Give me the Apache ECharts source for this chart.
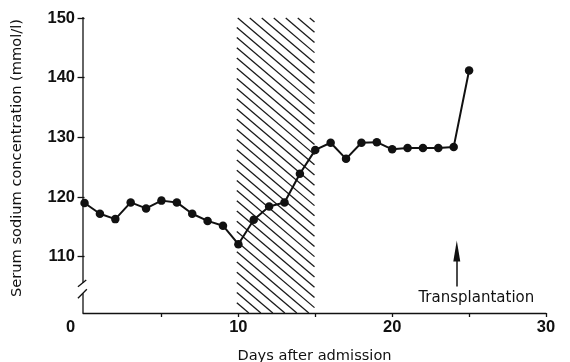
<!DOCTYPE html>
<html>
<head>
<meta charset="utf-8">
<script src="https://cdn.jsdelivr.net/npm/echarts@6/dist/echarts.min.js"></script>
<style>html,body{margin:0;padding:0;background:#fff}#c{width:570px;height:362px}</style>
</head>
<body>
<div id="c"></div>
<script>
// ---- data ----
const days = [0,1,2,3,4,5,6,7,8,9,10,11,12,13,14,15,16,17,18,19,20,21,22,23,24,25];
const sodium = [119.0,117.2,116.3,119.1,118.1,119.4,119.1,117.2,116.0,115.2,112.1,116.2,118.4,119.1,123.9,127.9,129.1,126.4,129.1,129.2,128.0,128.2,128.2,128.2,128.4,141.2];
const xTickLabels = [0,10,20,30];
const xMinorTicks = [5,10,15,20,25,30];
const yTickLabels = [110,120,130,140,150];
const hatchDays = [9.9, 14.95];
const transplantDay = 24.2;
const transplantText = 'Transplantation';
const yTitle = 'Serum sodium concentration (mmol/l)';
const xTitle = 'Days after admission';

const xMin = -0.1, xMax = 30, yMin = 100.57, yMax = 150;
const ink = '#111';

const chart = echarts.init(document.getElementById('c'), null, {renderer:'canvas'});
const numFont = {fontFamily:'Liberation Sans', fontWeight:'bold', fontSize:16.5, color:ink};
const txtFont = {fontFamily:'DejaVu Sans', fontSize:14.6, color:ink};

// hatched band drawn through the axes' scales
function renderHatch(params, api){
  const a = api.coord([api.value(0), yMax]);
  const b = api.coord([api.value(1), yMin]);
  const L = a[0], R = b[0], T = a[1], B = b[1];
  const step = 12, s = 0.85; // horizontal spacing, dy/dx
  const children = [];
  for (let c = L - (B - T) / s; c <= R; c += step) {
    let y1 = T + s * (L - c), y2 = T + s * (R - c);
    y1 = Math.max(T, y1); y2 = Math.min(B, y2);
    if (y2 <= y1) continue;
    children.push({type:'line', shape:{x1:c + (y1 - T)/s, y1:y1, x2:c + (y2 - T)/s, y2:y2},
      style:{stroke:'#1a1a1a', lineWidth:1.3}});
  }
  return {type:'group', children:children};
}

chart.setOption({
  animation:false,
  backgroundColor:'#fff',
  grid:{left:83, right:24, top:18, bottom:49, containLabel:false, outerBoundsMode:'none'},
  xAxis:{
    type:'value', min:xMin, max:xMax,
    name:xTitle, nameLocation:'middle', nameGap:36, nameTextStyle:txtFont,
    axisLine:{show:true, lineStyle:{color:ink, width:1.3}},
    axisTick:{show:true, inside:false, length:4, customValues:xMinorTicks, lineStyle:{color:ink, width:1.3}},
    axisLabel:Object.assign({show:true, margin:6, customValues:xTickLabels,
      formatter:v => v === 0 ? '{z|0}' : String(v),
      rich:{z:Object.assign({padding:[0,28,0,0]}, numFont)}}, numFont),
    splitLine:{show:false}
  },
  yAxis:{
    type:'value', min:yMin, max:yMax,
    axisLine:{show:false},
    axisTick:{show:true, inside:false, length:7, customValues:yTickLabels, lineStyle:{color:ink, width:1.3}},
    axisLabel:Object.assign({show:true, margin:8, customValues:yTickLabels}, numFont),
    splitLine:{show:false}
  },
  series:[{
    type:'custom',
    renderItem:renderHatch,
    data:[[hatchDays[0], hatchDays[1]]],
    encode:{x:[0,1]},
    silent:true, z:1
  },{
    type:'line',
    data:days.map((d,i)=>[d, sodium[i]]),
    symbol:'circle', symbolSize:8.5,
    itemStyle:{color:ink},
    lineStyle:{color:ink, width:2},
    z:5,
    clip:false,
    markLine:{
      silent:true, symbol:['none','none'],
      label:{show:false},
      lineStyle:{color:ink, width:1.5, type:'solid'},
      data:[[{coord:[transplantDay,105.0]},{coord:[transplantDay,111.3]}]]
    },
    markPoint:{
      silent:true,
      data:[
        {coord:[transplantDay,110.96], symbol:'triangle', symbolSize:[7,21], itemStyle:{color:ink}, label:{show:false}},
        {coord:[25.47,103.1], symbol:'circle', symbolSize:1, itemStyle:{color:'rgba(0,0,0,0)'},
         label:Object.assign({show:true, position:'inside', formatter:transplantText}, txtFont, {fontSize:15})}
      ]
    }
  }]
});

// axis line with break marks, positioned through the chart's own scales
const P = v => chart.convertToPixel({gridIndex:0}, v);
const gx = P([xMin, yMax])[0];
const seg = (a, b) => ({type:'line', shape:{x1:a[0], y1:a[1], x2:b[0], y2:b[1]}, style:{stroke:ink, lineWidth:1.3}, silent:true});
const pTop = P([xMin, yMax]), pUpEnd = P([xMin, 105.6]), pLoStart = P([xMin, 103.9]), pBot = P([xMin, yMin]);
chart.setOption({
  graphic:[
    seg([gx, pTop[1]-1], [gx, pUpEnd[1]]),
    seg([gx, pLoStart[1]], [gx, pBot[1]]),
    seg(P([-0.43,104.97]), P([0.11,106.1])),
    seg(P([-0.43,103.03]), P([0.15,104.54])),
    {type:'text', x:17, y:158, rotation:Math.PI/2, silent:true,
     style:{text:yTitle, textAlign:'center', textVerticalAlign:'middle', fill:ink, font:'14.6px "DejaVu Sans"'}}
  ]
});
</script>
</body>
</html>
